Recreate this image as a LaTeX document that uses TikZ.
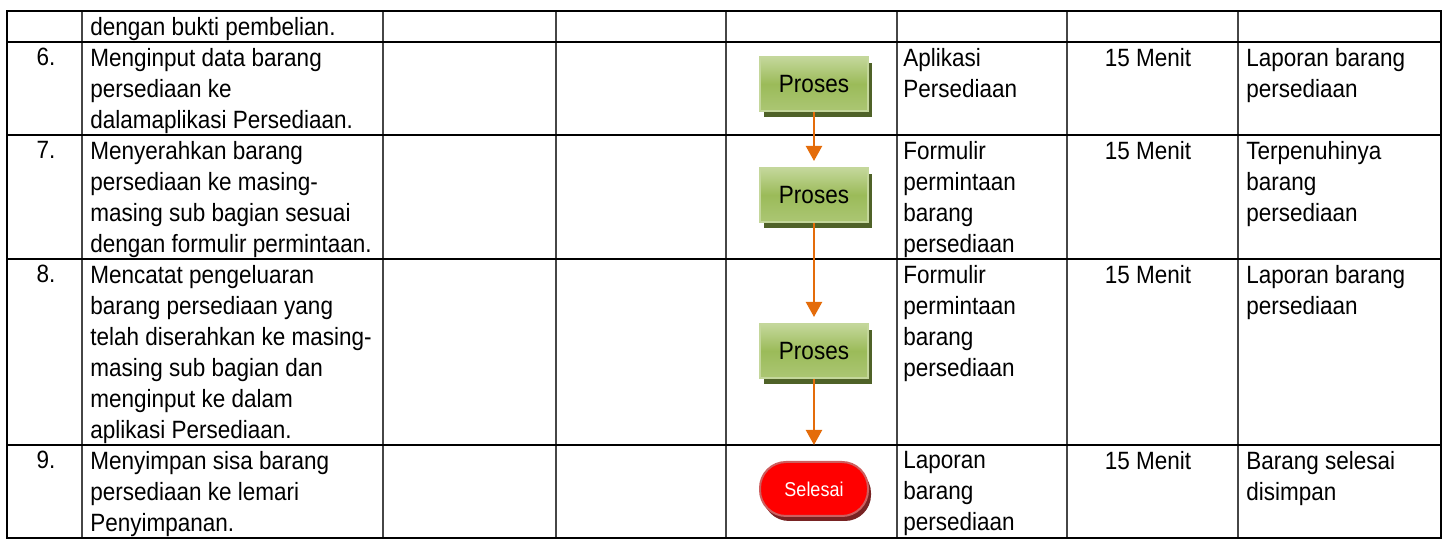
\documentclass[tikz,border=0pt]{standalone}
\usepackage{fontspec}
\setmainfont{Liberation Sans}[FakeStretch=0.9]
\usetikzlibrary{arrows.meta,shadows}
\definecolor{procgreen}{RGB}{155,187,89}
\definecolor{proclight}{RGB}{196,215,155}
\definecolor{procshadow}{RGB}{79,98,40}
\definecolor{flowarrow}{RGB}{228,108,10}
\definecolor{stopred}{RGB}{255,0,0}
\definecolor{stopedge}{RGB}{205,95,95}
\definecolor{stopshadow}{RGB}{120,35,35}
\definecolor{gridgray}{RGB}{70,70,70}

\begin{document}
\begin{tikzpicture}[x=0.5pt,y=-0.5pt,
  cell/.style={anchor=north west,inner sep=0pt,align=left,font=\fontsize{12.5}{15.5}\selectfont},
  num/.style={anchor=north,inner sep=0pt,align=center,font=\fontsize{12.5}{15.5}\selectfont},
  proses/.style={draw=proclight,line width=1pt,minimum width=54pt,minimum height=27pt,inner sep=0pt,
    top color=proclight,bottom color=procgreen!60!proclight,middle color=procgreen,
    drop shadow={shadow xshift=1.8pt,shadow yshift=-3pt,fill=procshadow,opacity=1},
    font=\fontsize{12.5}{14}\selectfont},
  selesai/.style={draw=stopedge,line width=1pt,fill=stopred,rounded corners=13pt,
    minimum width=54pt,minimum height=27pt,inner sep=0pt,text=white,
    drop shadow={shadow xshift=1.5pt,shadow yshift=-2.5pt,fill=stopshadow,opacity=1},
    font=\fontsize{10}{12}\selectfont},
  flow/.style={draw=flowarrow,line width=1.1pt,-{Triangle[width=8pt,length=7.5pt]}}]
\useasboundingbox (0,0) rectangle (1448,539);

% table frame
\draw[gridgray,line width=0.7pt] (82,11) -- (82,538); % no / uraian
\draw[gridgray,line width=0.7pt] (383,11) -- (383,538);
\draw[gridgray,line width=0.7pt] (556,11) -- (556,538);
\draw[gridgray,line width=0.7pt] (726,11) -- (726,538);
\draw[gridgray,line width=0.7pt] (897,11) -- (897,538); % kelengkapan
\draw[gridgray,line width=0.7pt] (1067,11) -- (1067,538); % waktu
\draw[gridgray,line width=0.7pt] (1238,11) -- (1238,538); % output
\draw[line width=1pt] (7,42) -- (1441,42);
\draw[line width=1pt] (7,135) -- (1441,135);
\draw[line width=1pt] (7,259) -- (1441,259);
\draw[line width=1pt] (7,445) -- (1441,445);
\draw[line width=1pt] (7,11) rectangle (1441,538);

% row 5 (rest)
\node[cell] (desc5) at (90,17) {dengan bukti pembelian.};

% row 6
\node[num] (no6) at (46,48) {6.};
\node[cell] (desc6) at (90,48) {Menginput data barang\\persediaan ke\\dalamaplikasi Persediaan.};
\node[cell] (dok6) at (903,48) {Aplikasi\\Persediaan};
\node[num] (time6) at (1148,48) {15 Menit};
\node[cell] (out6) at (1246,48) {Laporan barang\\persediaan};

% row 7
\node[num] (no7) at (46,141) {7.};
\node[cell] (desc7) at (90,141) {Menyerahkan barang\\persediaan ke masing-\\masing sub bagian sesuai\\dengan formulir permintaan.};
\node[cell] (dok7) at (903,141) {Formulir\\permintaan\\barang\\persediaan};
\node[num] (time7) at (1148,141) {15 Menit};
\node[cell] (out7) at (1246,141) {Terpenuhinya\\barang\\persediaan};

% row 8
\node[num] (no8) at (46,265) {8.};
\node[cell] (desc8) at (90,265) {Mencatat pengeluaran\\barang persediaan yang\\telah diserahkan ke masing-\\masing sub bagian dan\\menginput ke dalam\\aplikasi Persediaan.};
\node[cell] (dok8) at (903,265) {Formulir\\permintaan\\barang\\persediaan};
\node[num] (time8) at (1148,265) {15 Menit};
\node[cell] (out8) at (1246,265) {Laporan barang\\persediaan};

% row 9
\node[num] (no9) at (46,451) {9.};
\node[cell] (desc9) at (90,451) {Menyimpan sisa barang\\persediaan ke lemari\\Penyimpanan.};
\node[cell] (dok9) at (903,451) {Laporan\\barang\\persediaan};
\node[num] (time9) at (1148,451) {15 Menit};
\node[cell] (out9) at (1246,451) {Barang selesai\\disimpan};

% flow
\node[proses] (p6) at (814,84) {Proses};
\node[proses] (p7) at (814,195) {Proses};
\node[proses] (p8) at (814,351) {Proses};
\node[selesai] (end9) at (814,489) {Selesai};

\draw[flow,shorten >=3pt] (p6.south) -- (p7.north);
\draw[flow,shorten >=3pt] (p7.south) -- (p8.north);
\draw[flow,shorten >=8pt] (p8.south) -- (end9.north);

\end{tikzpicture}
\end{document}
